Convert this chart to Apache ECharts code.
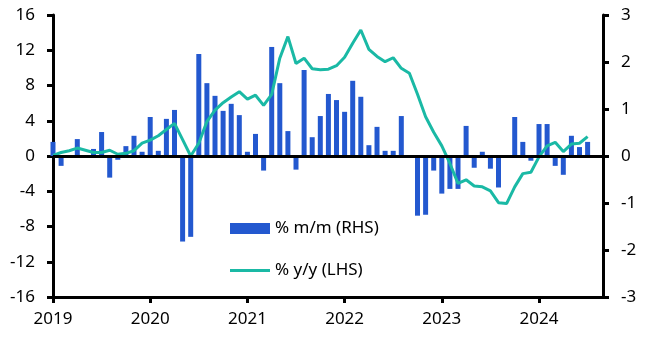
<!DOCTYPE html>
<html>
<head>
<meta charset="utf-8">
<script src="https://cdn.jsdelivr.net/npm/echarts@6/dist/echarts.min.js"></script>
<style>
  html, body { margin: 0; padding: 0; background: #fff; }
  #main { width: 648px; height: 354px; }
</style>
</head>
<body>
<div id="main"></div>
<script>
// monthly data, Jan 2019 .. Jul 2024 (x = months since Jan 2019)
var startYear = 2019;
var momName = '% m/m (RHS)';
var yoyName = '% y/y (LHS)';
var mom = [0.30,-0.21,0,0.36,0,0.15,0.51,-0.46,-0.08,0.21,0.43,0.09,
  0.83,0.11,0.79,0.98,-1.82,-1.72,2.17,1.55,1.28,0.96,1.11,0.87,
  0.09,0.47,-0.31,2.32,1.55,0.53,-0.29,1.83,0.40,0.85,1.32,1.19,
  0.94,1.60,1.26,0.23,0.62,0.11,0.11,0.85,0,-1.27,-1.25,-0.31,
  -0.80,-0.70,-0.70,0.64,-0.25,0.09,-0.27,-0.67,0,0.83,0.30,-0.10,
  0.68,0.68,-0.21,-0.40,0.43,0.19,0.30];
var yoy = [0.08,0.4,0.6,0.9,0.65,0.4,0.4,0.65,0.2,0.3,0.6,1.45,
  1.8,2.3,3.0,3.7,1.85,0,1.45,3.9,5.2,6.05,6.7,7.3,
  6.45,6.9,5.75,7.0,11.1,13.55,10.5,11.1,9.9,9.8,9.85,10.25,
  11.2,12.8,14.3,12.1,11.3,10.7,11.15,9.95,9.4,7.0,4.45,2.7,
  1.15,-0.85,-3.1,-2.7,-3.4,-3.5,-3.95,-5.3,-5.4,-3.5,-2.0,-1.85,
  -0.1,1.15,1.55,0.5,1.35,1.45,2.2];
var lhsTicks = { min: -16, max: 16, interval: 4 };
var rhsTicks = { min: -3, max: 3, interval: 1 };

var font = 'Noto Sans';
var myChart = echarts.init(document.getElementById('main'));
var axisLine = { show: true, onZero: false, lineStyle: { color: '#000', width: 3 } };
var axisTick = { show: true, inside: false, length: 6, lineStyle: { color: '#000', width: 3 } };

var option = {
  animation: false,
  textStyle: { fontFamily: font },
  grid: { left: 53, right: 45, top: 15, bottom: 57 },
  legend: {
    orient: 'vertical',
    left: 230,
    top: 220,
    padding: 0,
    itemWidth: 40,
    itemHeight: 11,
    itemGap: 25,
    textStyle: { fontFamily: font, fontSize: 17, color: '#000' },
    data: [
      { name: momName, icon: 'rect' },
      { name: yoyName, icon: 'path://M0,0L40,0L40,3L0,3Z' }
    ]
  },
  xAxis: {
    type: 'value',
    min: 0,
    max: 67.9,
    interval: 12,
    axisLine: axisLine,
    axisTick: axisTick,
    splitLine: { show: false },
    axisLabel: {
      fontSize: 17, color: '#000', margin: 14, showMaxLabel: false,
      formatter: function (v) { return v % 12 === 0 ? String(startYear + v / 12) : ''; }
    }
  },
  yAxis: [
    {
      type: 'value', position: 'left',
      min: lhsTicks.min, max: lhsTicks.max, interval: lhsTicks.interval,
      axisLine: axisLine, axisTick: axisTick,
      splitLine: { show: false },
      axisLabel: { fontSize: 17, color: '#000', margin: 18 }
    },
    {
      type: 'value', position: 'right',
      min: rhsTicks.min, max: rhsTicks.max, interval: rhsTicks.interval,
      axisLine: axisLine, axisTick: axisTick,
      splitLine: { show: false },
      axisLabel: { fontSize: 17, color: '#000', margin: 18 }
    }
  ],
  series: [
    {
      name: momName,
      type: 'bar',
      yAxisIndex: 1,
      barWidth: 5,
      itemStyle: { color: '#2358CF' },
      data: mom.map(function (v, i) { return [i, v]; }),
      markLine: {
        silent: true,
        symbol: 'none',
        label: { show: false },
        lineStyle: { color: '#000', width: 3, type: 'solid' },
        data: [{ yAxis: 0 }]
      }
    },
    {
      name: yoyName,
      type: 'line',
      yAxisIndex: 0,
      symbol: 'none',
      lineStyle: { color: '#1AB9A5', width: 3 },
      itemStyle: { color: '#1AB9A5' },
      data: yoy.map(function (v, i) { return [i, v]; })
    }
  ]
};

myChart.setOption(option);
</script>
</body>
</html>
